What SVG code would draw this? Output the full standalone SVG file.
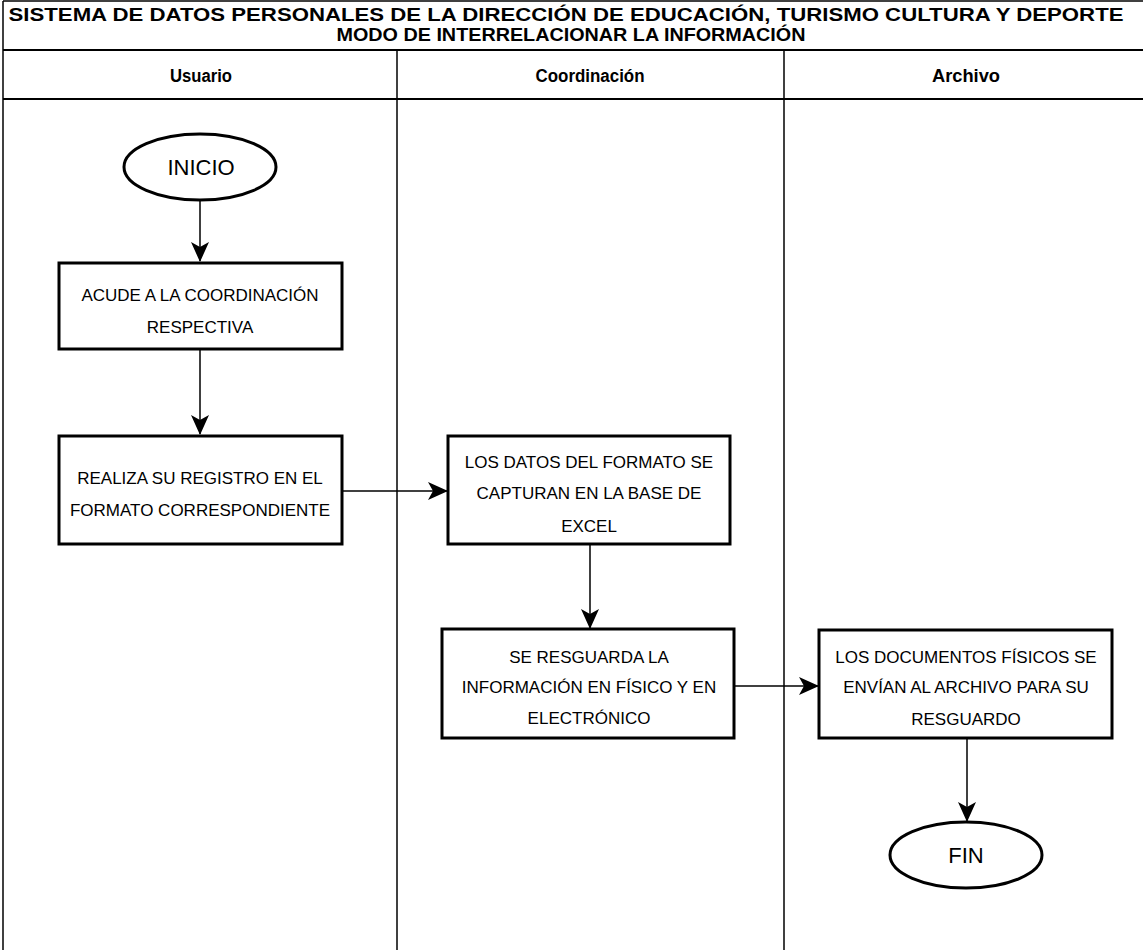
<svg xmlns="http://www.w3.org/2000/svg" width="1143" height="950" viewBox="0 0 1143 950">
<style>
.lane{fill:none;stroke:#000;stroke-width:1.5}
.hl{stroke:#000;stroke-width:2}
.box{fill:#fff;stroke:#000;stroke-width:3}
.t{font-family:"Liberation Sans",Arial,sans-serif;font-size:17px;fill:#000;text-anchor:middle}
.h{font-family:"Liberation Sans",Arial,sans-serif;font-size:18px;font-weight:bold;fill:#000;text-anchor:middle}
.e{font-family:"Liberation Sans",Arial,sans-serif;font-size:22px;fill:#000;text-anchor:middle}
.c{fill:none;stroke:#000;stroke-width:1.5}
</style>
<defs>
<marker id="arr" viewBox="0 0 20 20" refX="19" refY="10" markerWidth="20" markerHeight="20" markerUnits="userSpaceOnUse" orient="auto">
<path d="M0,1 L20,10 L0,19 L5,10 Z" fill="#000"/>
</marker>
</defs>
<rect width="1143" height="950" fill="#fff"/>
<g id="pool">
<line class="lane" x1="3" y1="1" x2="1143" y2="1"/>
<line class="lane" x1="3" y1="1" x2="3" y2="950"/>
<line class="hl" x1="3" y1="50" x2="1143" y2="50"/>
<line class="hl" x1="3" y1="99" x2="1143" y2="99"/>
<line class="lane" x1="397" y1="50" x2="397" y2="950"/>
<line class="lane" x1="784" y1="50" x2="784" y2="950"/>
<text class="h" x="566" y="21" font-size="19" textLength="1115" lengthAdjust="spacingAndGlyphs">SISTEMA DE DATOS PERSONALES DE LA DIRECCIÓN DE EDUCACIÓN, TURISMO CULTURA Y DEPORTE</text>
<text class="h" x="571" y="41" font-size="16" textLength="469" lengthAdjust="spacingAndGlyphs">MODO DE INTERRELACIONAR LA INFORMACIÓN</text>
<text class="h" x="201" y="82" textLength="62" lengthAdjust="spacingAndGlyphs">Usuario</text>
<text class="h" x="590" y="82" textLength="109" lengthAdjust="spacingAndGlyphs">Coordinación</text>
<text class="h" x="966" y="82" textLength="68" lengthAdjust="spacingAndGlyphs">Archivo</text>
</g>
<g id="connectors">
<line class="c" x1="200" y1="200" x2="200" y2="261" marker-end="url(#arr)"/>
<line class="c" x1="200" y1="350" x2="200" y2="434" marker-end="url(#arr)"/>
<line class="c" x1="342" y1="491" x2="447" y2="491" marker-end="url(#arr)"/>
<line class="c" x1="590" y1="544" x2="590" y2="628" marker-end="url(#arr)"/>
<line class="c" x1="734" y1="686" x2="818" y2="686" marker-end="url(#arr)"/>
<line class="c" x1="967" y1="738" x2="967" y2="821" marker-end="url(#arr)"/>
</g>
<g id="inicio">
<ellipse class="box" cx="200" cy="167" rx="76" ry="33"/>
<text class="e" x="201" y="175">INICIO</text>
</g>
<g id="acude">
<rect class="box" x="59" y="263" width="283" height="86"/>
<text class="t" x="200" y="301">ACUDE A LA COORDINACIÓN</text>
<text class="t" x="200" y="333">RESPECTIVA</text>
</g>
<g id="realiza">
<rect class="box" x="59" y="436" width="283" height="108"/>
<text class="t" x="200" y="484">REALIZA SU REGISTRO EN EL</text>
<text class="t" x="200" y="516">FORMATO CORRESPONDIENTE</text>
</g>
<g id="capturan">
<rect class="box" x="448" y="436" width="282" height="108"/>
<text class="t" x="589" y="468">LOS DATOS DEL FORMATO SE</text>
<text class="t" x="589" y="499">CAPTURAN EN LA BASE DE</text>
<text class="t" x="589" y="532">EXCEL</text>
</g>
<g id="resguarda">
<rect class="box" x="442" y="629" width="292" height="109"/>
<text class="t" x="589" y="663">SE RESGUARDA LA</text>
<text class="t" x="589" y="693">INFORMACIÓN EN FÍSICO Y EN</text>
<text class="t" x="589" y="724">ELECTRÓNICO</text>
</g>
<g id="documentos">
<rect class="box" x="819" y="630" width="293" height="108"/>
<text class="t" x="966" y="663">LOS DOCUMENTOS FÍSICOS SE</text>
<text class="t" x="966" y="693">ENVÍAN AL ARCHIVO PARA SU</text>
<text class="t" x="966" y="725">RESGUARDO</text>
</g>
<g id="fin">
<ellipse class="box" cx="966" cy="855" rx="76" ry="33"/>
<text class="e" x="966" y="863">FIN</text>
</g>
</svg>
